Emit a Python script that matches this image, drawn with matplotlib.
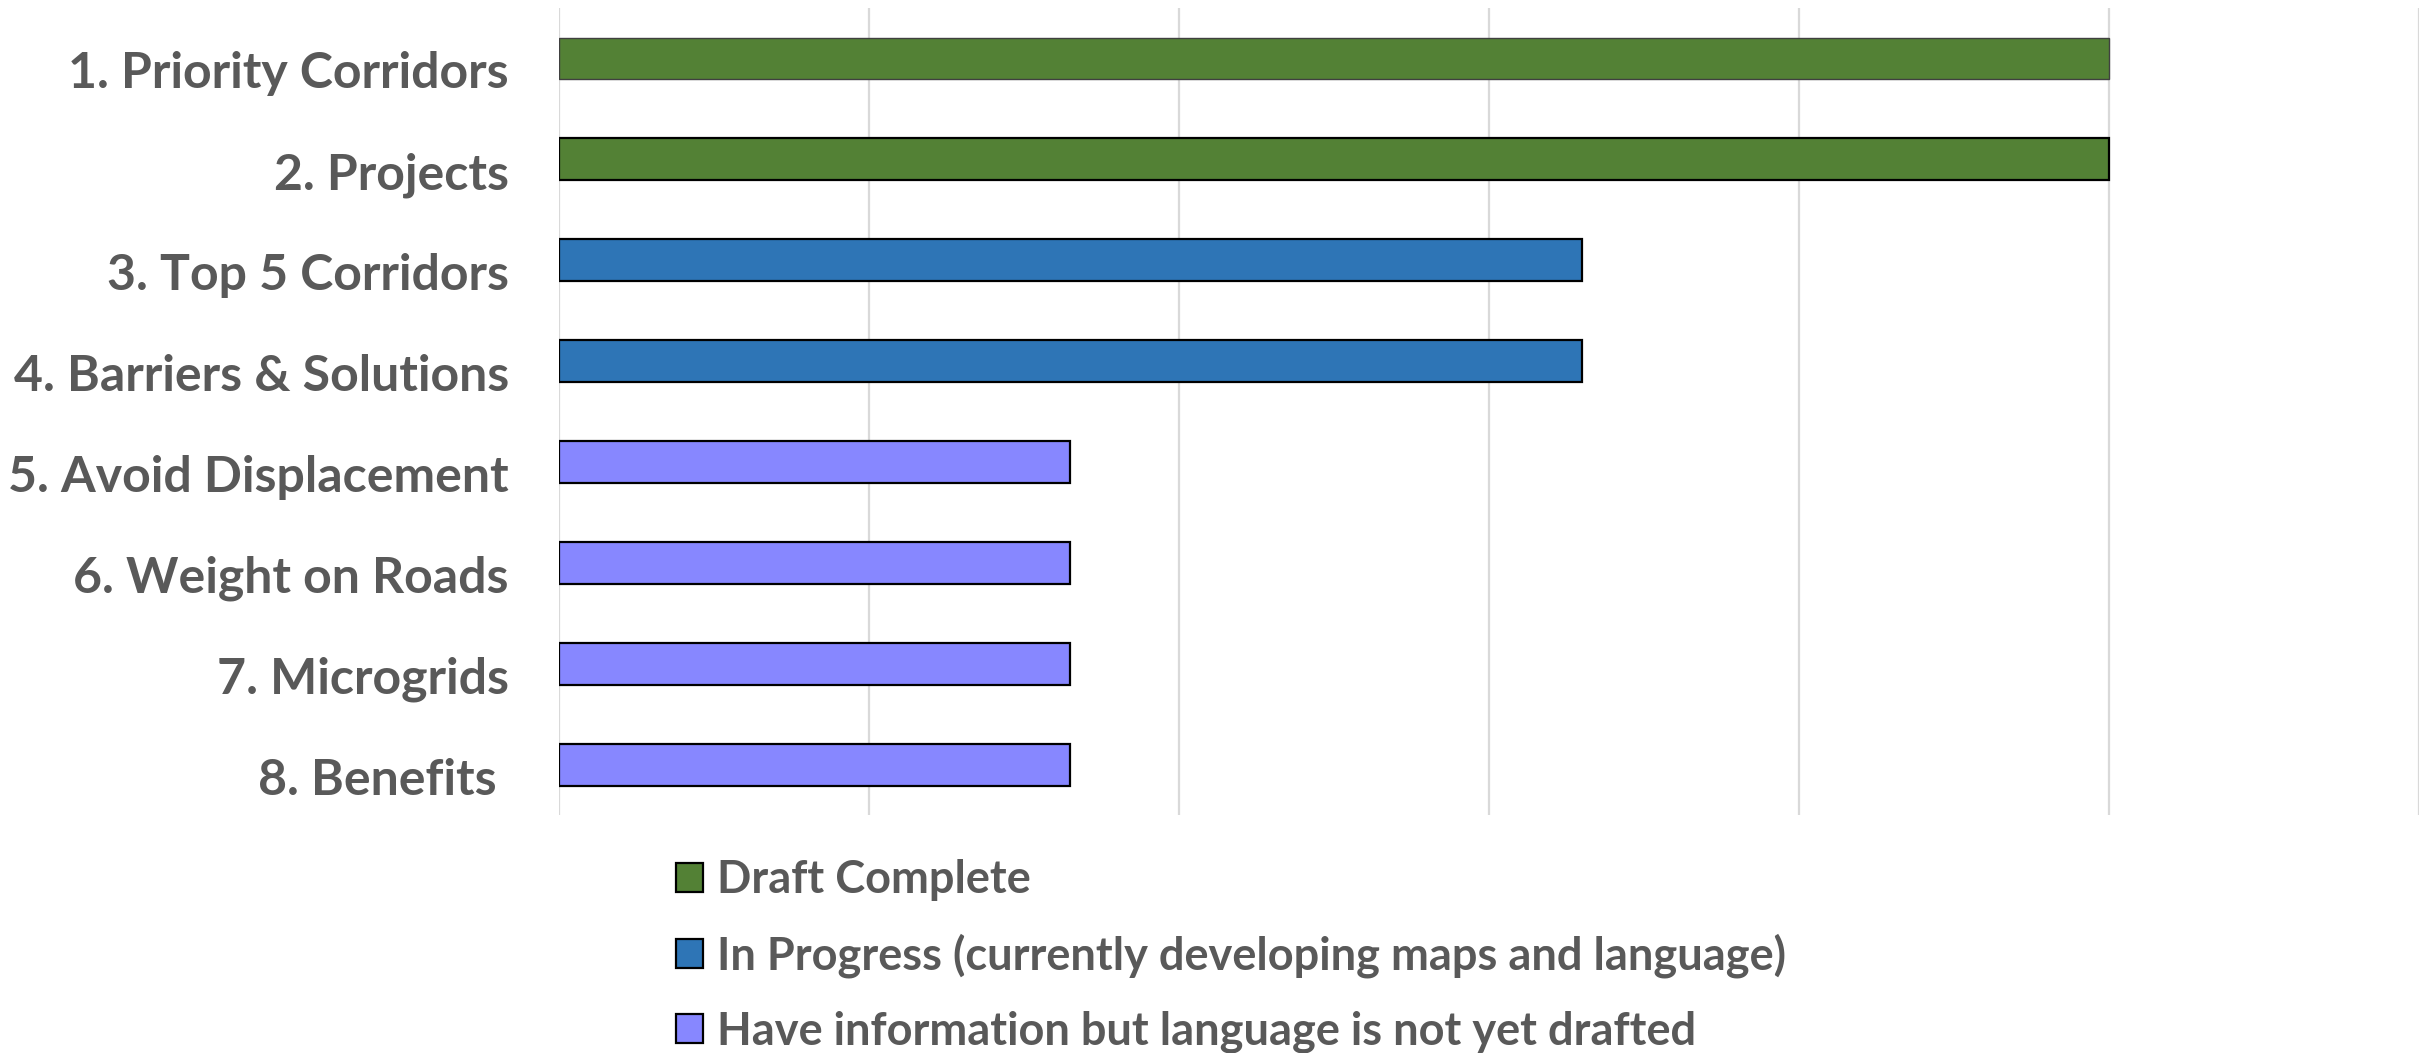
import matplotlib.pyplot as plt
import matplotlib.transforms as mtransforms
from matplotlib.patches import Patch

# Chapter status data (share of work done)
chapters = ["1. Priority Corridors", "2. Projects", "3. Top 5 Corridors",
            "4. Barriers & Solutions", "5. Avoid Displacement",
            "6. Weight on Roads", "7. Microgrids", "8. Benefits "]
progress = [1.0, 1.0, 0.66, 0.66, 0.33, 0.33, 0.33, 0.33]
status_names = ["Draft Complete",
                "In Progress (currently developing maps and language)",
                "Have information but language is not yet drafted"]
status_colors = ["#538135", "#2E75B6", "#8787FF"]

plt.rcParams['font.family'] = ['Lato', 'DejaVu Sans']
text_color = "#595959"


def color_for(p):
    if p >= 1.0:
        return status_colors[0]
    if p >= 0.5:
        return status_colors[1]
    return status_colors[2]


fig = plt.figure(figsize=(24.25, 10.53), dpi=100)
ax = fig.add_axes([0.2305, 0.226, 0.767, 0.7664])

# Bars
ypos = list(range(len(chapters)))
bars = ax.barh(ypos, progress, height=0.415,
               color=[color_for(p) for p in progress],
               edgecolor="black", linewidth=1.6, zorder=3)
bars[0].set_edgecolor("#404040")
bars[0].set_linewidth(1.0)

ax.set_ylim(len(chapters) - 0.5, -0.5)
ax.set_xlim(0, 1.2)
ax.set_xticks([0, 0.2, 0.4, 0.6, 0.8, 1.0, 1.2])
ax.set_xticklabels([])
ax.grid(axis="x", color="#d9d9d9", linewidth=1.6, zorder=0)
ax.set_yticks(ypos)
ax.set_yticklabels(chapters, fontsize=36, fontweight="bold", color=text_color)
ax.tick_params(axis="both", length=0)
ax.tick_params(axis="y", pad=36)
for s in ax.spines.values():
    s.set_visible(False)

# labels sit a little below the bar centres
shift = mtransforms.ScaledTranslation(0, -0.115, fig.dpi_scale_trans)
for lab in ax.get_yticklabels():
    lab.set_transform(lab.get_transform() + shift)

# Legend
handles = [Patch(facecolor=c, edgecolor="black", linewidth=1.6)
           for c in status_colors]
leg = fig.legend(handles, status_names, loc="upper left",
                 bbox_to_anchor=(0.2788, 0.184), frameon=False,
                 prop={"size": 32.5, "weight": "bold"},
                 handlelength=0.6, handleheight=0.62, handletextpad=0.31,
                 labelspacing=0.71, borderpad=0, borderaxespad=0)
for t in leg.get_texts():
    t.set_color(text_color)

fig.savefig("out.png", dpi=100, facecolor="white")
